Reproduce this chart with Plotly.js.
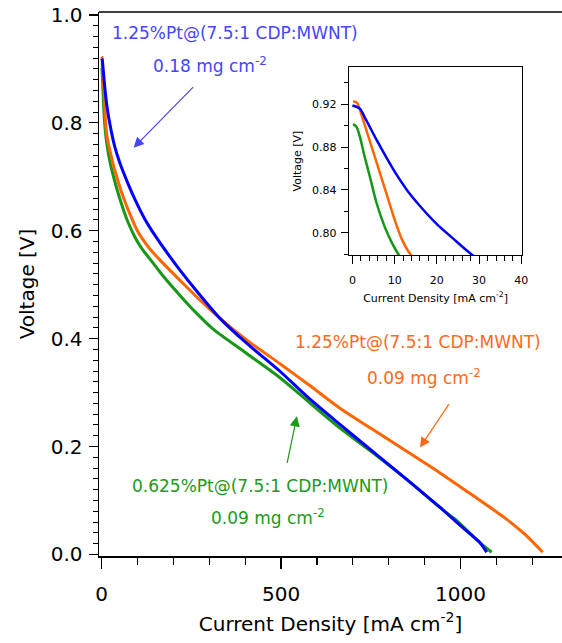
<!DOCTYPE html>
<html>
<head>
<meta charset="utf-8">
<script src="https://cdn.plot.ly/plotly-3.0.1.min.js"></script>
<style>html,body{margin:0;padding:0;background:#fff;}#chart{width:562px;height:643px;}</style>
</head>
<body>
<div id="chart"></div>
<script>
// Current density [mA cm-2] and voltage [V] for each catalyst
var blueI = [0, 1.75, 3.3, 5.7, 8.1, 10.5, 12.9, 16, 20, 24, 27.8, 36, 50, 73, 95, 120, 150, 190, 217, 260, 329, 403, 496, 575, 664, 757, 850, 943, 989, 1030, 1054, 1073];
var blueV = [0.919, 0.916, 0.905, 0.887, 0.870, 0.854, 0.840, 0.825, 0.808, 0.794, 0.781, 0.757, 0.727, 0.688, 0.655, 0.622, 0.590, 0.552, 0.528, 0.492, 0.438, 0.392, 0.340, 0.291, 0.241, 0.190, 0.139, 0.087, 0.060, 0.036, 0.022, 0.004];

var orangeI = [0.16, 1.1, 2.1, 3.3, 4.5, 6.1, 8.1, 10.1, 11.7, 13.7, 20, 27, 34, 41, 55, 75, 101, 130, 162, 217, 270, 329, 403, 496, 580, 664, 757, 850, 943, 1035, 1129, 1180, 1229];
var orangeV = [0.923, 0.9215, 0.911, 0.896, 0.881, 0.861, 0.836, 0.811, 0.794, 0.780, 0.757, 0.737, 0.718, 0.702, 0.672, 0.637, 0.598, 0.570, 0.546, 0.509, 0.474, 0.438, 0.398, 0.354, 0.313, 0.271, 0.231, 0.191, 0.151, 0.109, 0.065, 0.037, 0.004];

var greenI = [0.16, 0.95, 1.75, 2.9, 4.1, 5.7, 7.7, 9.3, 10.7, 13, 16, 20, 27, 40, 55, 72, 92, 112, 134, 170, 217, 260, 310, 403, 496, 552, 610, 664, 757, 850, 943, 975, 989, 1030, 1054, 1087];
var greenV = [0.9015, 0.899, 0.890, 0.871, 0.853, 0.828, 0.805, 0.791, 0.781, 0.768, 0.754, 0.738, 0.716, 0.683, 0.650, 0.618, 0.589, 0.567, 0.548, 0.517, 0.481, 0.450, 0.418, 0.373, 0.328, 0.297, 0.264, 0.234, 0.188, 0.139, 0.087, 0.070, 0.063, 0.037, 0.022, 0.004];

var seriesNames = ["1.25%Pt@(7.5:1 CDP:MWNT) 0.18 mg cm-2", "1.25%Pt@(7.5:1 CDP:MWNT) 0.09 mg cm-2", "0.625%Pt@(7.5:1 CDP:MWNT) 0.09 mg cm-2"];

var cBlue = '#0000ff', cOrange = '#ff6600', cGreen = '#179617';
var tBlue = '#4646ff', tOrange = '#ff6a1a', tGreen = '#1c9a1c';
var FONT = 'DejaVu Sans, sans-serif';

function tr(x, y, c, name, xa, ya, w) {
  return {x: x, y: y, type: 'scatter', mode: 'lines', name: name,
          line: {color: c, width: w, shape: 'spline', smoothing: 0.8},
          xaxis: xa, yaxis: ya, hoverinfo: 'skip'};
}

var data = [
  tr(greenI, greenV, cGreen, seriesNames[2], 'x', 'y', 3),
  tr(orangeI, orangeV, cOrange, seriesNames[1], 'x', 'y', 3),
  tr(blueI, blueV, cBlue, seriesNames[0], 'x', 'y', 3),
  tr(greenI, greenV, cGreen, seriesNames[2], 'x2', 'y2', 2.5),
  tr(orangeI, orangeV, cOrange, seriesNames[1], 'x2', 'y2', 2.5),
  tr(blueI, blueV, cBlue, seriesNames[0], 'x2', 'y2', 2.5)
];

function txt(x, y, text, color) {
  return {x: x, y: y, xref: 'x', yref: 'y', text: text, showarrow: false,
          font: {family: FONT, size: 17, color: color}, xanchor: 'center', yanchor: 'middle'};
}
function arr(x, y, ax, ay, color) {
  return {x: x, y: y, xref: 'x', yref: 'y', ax: ax, ay: ay, text: '', showarrow: true,
          arrowhead: 2, arrowsize: 1.7, arrowwidth: 1.2, arrowcolor: color};
}

var layout = {
  width: 562, height: 643,
  margin: {l: 99, r: 0, t: 12, b: 87},
  paper_bgcolor: '#fff', plot_bgcolor: '#fff',
  showlegend: false,
  font: {family: FONT, color: '#000'},
  xaxis: {
    domain: [0, 1], range: [-7.5, 1283], anchor: 'y',
    showline: true, linecolor: '#000', linewidth: 1.5,
    showgrid: false, zeroline: false,
    ticks: 'outside', ticklen: 11, tickwidth: 1.2, tickcolor: '#000',
    tick0: 0, dtick: 500, ticklabelstandoff: 8,
    tickfont: {family: FONT, size: 20},
    minor: {ticks: 'outside', ticklen: 7, tickwidth: 1.2, tickcolor: '#000', dtick: 100, showgrid: false},
    title: {text: 'Current Density [mA cm<sup>-2</sup>]', font: {family: FONT, size: 20}, standoff: 12}
  },
  yaxis: {
    domain: [0, 1], range: [-0.003, 1.0056], anchor: 'x',
    showline: true, linecolor: '#000', linewidth: 1.5,
    showgrid: false, zeroline: false,
    ticks: 'outside', ticklen: 9, tickwidth: 1.2, tickcolor: '#000',
    tick0: 0, dtick: 0.2, tickformat: '.1f', ticklabelstandoff: 2,
    tickfont: {family: FONT, size: 20},
    minor: {ticks: 'outside', ticklen: 5, tickwidth: 1, tickcolor: '#000', dtick: 0.02, showgrid: false},
    title: {text: 'Voltage [V]', font: {family: FONT, size: 20}, standoff: 10}
  },
  xaxis2: {
    domain: [0.540, 0.914], range: [-0.8, 40.2], anchor: 'y2',
    showline: true, mirror: true, linecolor: '#000', linewidth: 1.2,
    showgrid: false, zeroline: false,
    ticks: 'outside', ticklen: 8, tickwidth: 1, tickcolor: '#000',
    tick0: 0, dtick: 10, ticklabelstandoff: 6,
    tickfont: {family: FONT, size: 11},
    minor: {ticks: 'outside', ticklen: 5, tickwidth: 1, tickcolor: '#000', dtick: 2, showgrid: false},
    title: {text: 'Current Density [mA cm<sup>-2</sup>]', font: {family: FONT, size: 11}, standoff: 8}
  },
  yaxis2: {
    domain: [0.553, 0.899], range: [0.779, 0.955], anchor: 'x2',
    showline: true, mirror: true, linecolor: '#000', linewidth: 1.2,
    showgrid: false, zeroline: false,
    ticks: 'outside', ticklen: 7, tickwidth: 1, tickcolor: '#000',
    tick0: 0.8, dtick: 0.04, tickformat: '.2f', ticklabelstandoff: 2,
    tickfont: {family: FONT, size: 11},
    minor: {ticks: 'outside', ticklen: 4, tickwidth: 1, tickcolor: '#000', dtick: 0.02, showgrid: false},
    title: {text: 'Voltage [V]', font: {family: FONT, size: 11}, standoff: 8}
  },
  shapes: [
    {type: 'line', xref: 'paper', yref: 'paper', x0: 0, x1: 1, y0: 1, y1: 1,
     line: {color: '#000', width: 1.5}}
  ],
  annotations: [
    txt(371, 0.967, '1.25%Pt@(7.5:1 CDP:MWNT)', tBlue),
    txt(301, 0.907, '0.18 mg cm<sup>-2</sup>', tBlue),
    arr(89, 0.754, 61, -62, tBlue),
    txt(881, 0.393, '1.25%Pt@(7.5:1 CDP:MWNT)', tOrange),
    txt(898, 0.328, '0.09 mg cm<sup>-2</sup>', tOrange),
    arr(887, 0.198, 30, -45, tOrange),
    txt(443, 0.126, '0.625%Pt@(7.5:1 CDP:MWNT)', tGreen),
    txt(463, 0.070, '0.09 mg cm<sup>-2</sup>', tGreen),
    arr(544, 0.256, -10, 48, tGreen)
  ]
};

Plotly.newPlot('chart', data, layout, {staticPlot: true, displayModeBar: false});
</script>
</body>
</html>
